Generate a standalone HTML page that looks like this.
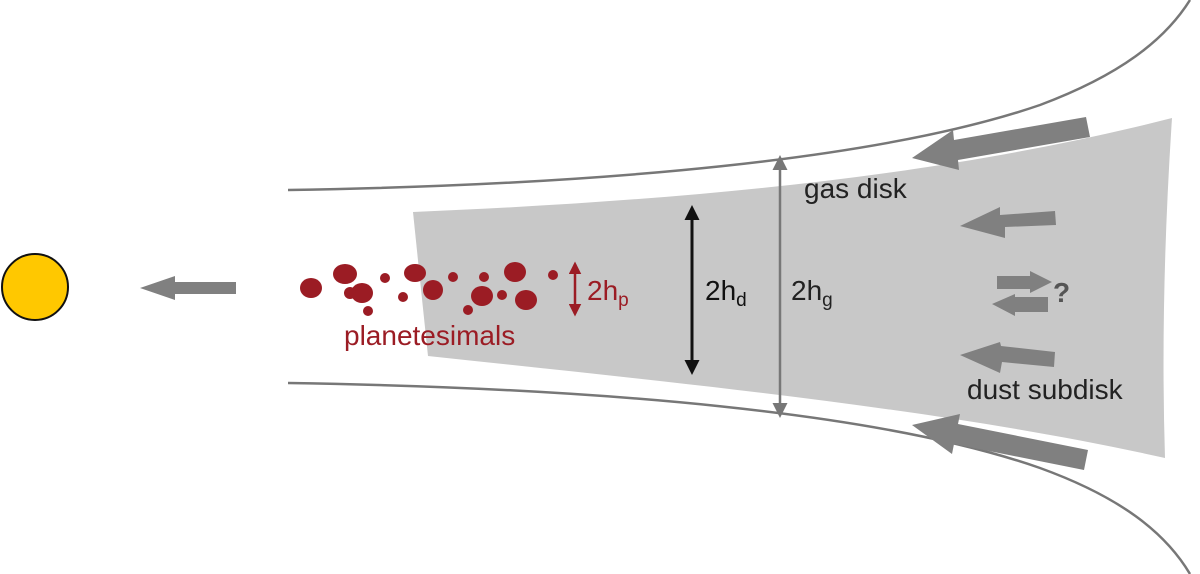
<!DOCTYPE html>
<html><head><style>body{margin:0;background:#fff}svg{display:block}text{font-family:"Liberation Sans",sans-serif}</style></head>
<body>
<svg width="1200" height="574" viewBox="0 0 1200 574">
<defs>
<marker id="hb" viewBox="0 0 10 10" refX="8" refY="5" markerWidth="5" markerHeight="5" orient="auto-start-reverse"><path d="M0,0L10,5L0,10z" fill="#111"/></marker>
<marker id="hg" viewBox="0 0 10 10" refX="8" refY="5" markerWidth="6" markerHeight="6" orient="auto-start-reverse"><path d="M0,0L10,5L0,10z" fill="#777"/></marker>
<marker id="hr" viewBox="0 0 10 10" refX="8" refY="5" markerWidth="5" markerHeight="5" orient="auto-start-reverse"><path d="M0,0L10,5L0,10z" fill="#9b1c24"/></marker>
</defs>
<path d="M413,212 C700,200 950,175 1172,118 Q1160,300 1165,458 C950,410 700,385 428,356 Q420,280 413,212z" fill="#c8c8c8"/>
<path d="M288,190 C600,185 880,160 1040,105 C1120,75 1165,40 1190,0" fill="none" stroke="#777" stroke-width="2.5"/>
<path d="M288,383 C600,388 880,412 1040,468 C1120,497 1165,532 1190,574" fill="none" stroke="#777" stroke-width="2.5"/>
<circle cx="35" cy="287" r="33" fill="#ffc800" stroke="#111" stroke-width="2"/>
<g fill="#808080">
<path d="M236,282 L175,282 L175,276 L140,288 L175,300 L175,294 L236,294z"/>
<path d="M1086,117 L954,140 L953,130 L912,158 L959,170 L958,160 L1090,137z"/>
<path d="M1088,450 L958,424 L960,414 L912,425 L952,454 L954,444 L1084,470z"/>
<path d="M1055,211 L1056,225 L1005,227 L1005,238 L960,226 L1000,207 L1000,215z"/>
<path d="M1055,352 L1054,367 L1002,362 L1000,373 L960,355 L1000,342 L1001,346z"/>
<path d="M997,276 L1030,276 L1030,271 L1052,282 L1030,293 L1030,289 L997,289z"/>
<path d="M1048,297 L1015,297 L1015,294 L992,304 L1015,316 L1015,312 L1048,312z"/>
</g>
<text x="1053" y="302" font-size="28" font-weight="bold" fill="#555">?</text>
<line x1="692" y1="208" x2="692" y2="372" stroke="#111" stroke-width="3" marker-start="url(#hb)" marker-end="url(#hb)"/>
<line x1="780" y1="158" x2="780" y2="415" stroke="#777" stroke-width="2.5" marker-start="url(#hg)" marker-end="url(#hg)"/>
<line x1="575" y1="264" x2="575" y2="314" stroke="#9b1c24" stroke-width="2.5" marker-start="url(#hr)" marker-end="url(#hr)"/>
<text x="705" y="300" font-size="28" fill="#111">2h<tspan font-size="19" dy="6">d</tspan></text>
<text x="791" y="300" font-size="28" fill="#222">2h<tspan font-size="19" dy="6">g</tspan></text>
<text x="587" y="300" font-size="28" fill="#9b1c24">2h<tspan font-size="19" dy="6">p</tspan></text>
<text x="804" y="198" font-size="28" fill="#222">gas disk</text>
<text x="967" y="399" font-size="28" fill="#222">dust subdisk</text>
<text x="344" y="345" font-size="28" fill="#9b1c24">planetesimals</text>
<g fill="#9b1c24">
<ellipse cx="311" cy="288" rx="11" ry="10"/><ellipse cx="345" cy="274" rx="12" ry="10"/>
<ellipse cx="362" cy="293" rx="11" ry="10"/><circle cx="350" cy="293" r="6"/>
<circle cx="385" cy="278" r="5"/><circle cx="368" cy="311" r="5"/><circle cx="403" cy="297" r="5"/>
<ellipse cx="415" cy="273" rx="11" ry="9"/><ellipse cx="433" cy="290" rx="10" ry="10"/>
<circle cx="453" cy="277" r="5"/><circle cx="484" cy="277" r="5"/>
<ellipse cx="482" cy="296" rx="11" ry="10"/><circle cx="468" cy="310" r="5"/>
<circle cx="502" cy="295" r="5"/><ellipse cx="515" cy="272" rx="11" ry="10"/>
<ellipse cx="526" cy="300" rx="11" ry="10"/><circle cx="553" cy="275" r="5"/>
</g>
</svg>
</body></html>
